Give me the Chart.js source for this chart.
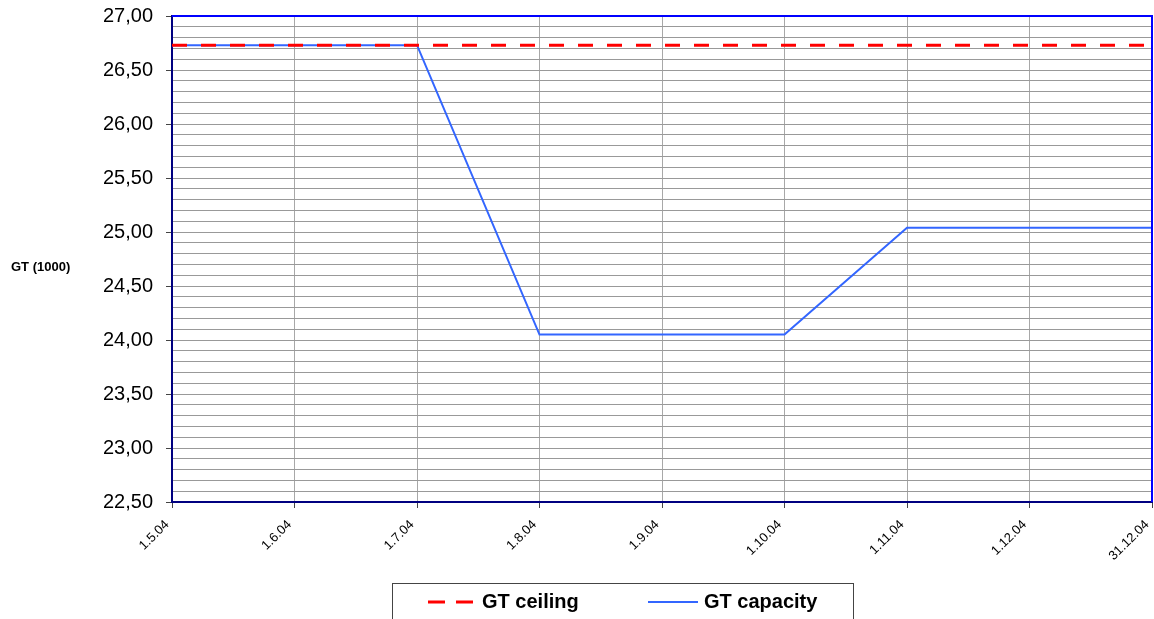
<!DOCTYPE html>
<html>
<head>
<meta charset="utf-8">
<script src="https://cdn.jsdelivr.net/npm/chart.js@4/dist/chart.umd.min.js"></script>
<style>
  html, body { margin: 0; padding: 0; background: #fff; }
  #wrap { width: 1154px; height: 619px; position: relative; }
</style>
</head>
<body>
<div id="wrap"><canvas id="chart" width="1154" height="619"></canvas></div>
<script>
let labels = ['1.5.04','1.6.04','1.7.04','1.8.04','1.9.04','1.10.04','1.11.04','1.12.04','31.12.04'];
let ceiling = [26.73,26.73,26.73,26.73,26.73,26.73,26.73,26.73,26.73];
let capacity = [26.73,26.73,26.73,24.05,24.05,24.05,25.04,25.04,25.04];
let yTitle = 'GT (1000)';

function isMajor(v){
    return Math.abs(v*2 - Math.round(v*2)) < 1e-6;
}

// frame on top and right + y title + legend box
let extras = {
    id:'extras',
    afterDraw(chart){
        let ctx = chart.ctx;
        let a = chart.chartArea;
        ctx.save();
        ctx.strokeStyle = '#0000ff';
        ctx.lineWidth = 2;
        ctx.beginPath();
        ctx.moveTo(a.left, a.top);
        ctx.lineTo(a.right, a.top);
        ctx.lineTo(a.right, a.bottom);
        ctx.stroke();

        ctx.fillStyle = '#000';
        ctx.font = 'bold 13px Arial, "Liberation Sans", sans-serif';
        ctx.textBaseline = 'middle';
        ctx.textAlign = 'left';
        ctx.fillText(yTitle, 11, 267);

        // legend
        ctx.strokeStyle = '#444';
        ctx.lineWidth = 1;
        ctx.strokeRect(392.5, 583.5, 461, 40);
        let ly = 602;
        ctx.strokeStyle = '#ff0000';
        ctx.lineWidth = 3;
        ctx.setLineDash([17,11]);
        ctx.beginPath();
        ctx.moveTo(428, ly);
        ctx.lineTo(476, ly);
        ctx.stroke();
        ctx.setLineDash([]);
        ctx.strokeStyle = '#3366ff';
        ctx.lineWidth = 2;
        ctx.beginPath();
        ctx.moveTo(648, ly);
        ctx.lineTo(698, ly);
        ctx.stroke();
        ctx.fillStyle = '#000';
        ctx.font = 'bold 20px Arial, "Liberation Sans", sans-serif';
        ctx.fillText('GT ceiling', 482, ly);
        ctx.fillText('GT capacity', 704, ly);
        ctx.restore();
    }
};

let chart = new Chart(document.querySelector('#chart').getContext('2d'),{
    type:'line',
    data:{
        labels:labels,
        datasets:[{
            label:'GT ceiling',
            data:ceiling,
            borderColor:'#ff0000',
            borderWidth:3,
            borderDash:[15,14],
            pointRadius:0,
            tension:0
        },{
            label:'GT capacity',
            data:capacity,
            borderColor:'#3366ff',
            borderWidth:2,
            pointRadius:0,
            tension:0
        }]
    },
    options:{
        responsive:false,
        animation:false,
        layout:{padding:{top:16,right:2,left:0,bottom:0}},
        plugins:{legend:{display:false},tooltip:{enabled:false}},
        scales:{
            x:{
                offset:false,
                afterFit(scale){
                    scale.height = 117;
                    scale.paddingLeft = 0;
                    scale.paddingRight = 0;
                },
                grid:{color:'#a8a8a8',lineWidth:1,tickLength:6,tickColor:'#444'},
                border:{color:'#000080',width:2},
                ticks:{
                    maxRotation:45,minRotation:45,autoSkip:false,
                    color:'#000',
                    font:{family:'Arial, "Liberation Sans", sans-serif',size:13},
                    padding:9,
                    labelOffset:-5
                }
            },
            y:{
                min:22.5,max:27,
                afterFit(scale){
                    scale.width = 172;
                    scale.paddingTop = 0;
                    scale.paddingBottom = 0;
                },
                grid:{
                    color:'#999999',lineWidth:1,tickLength:6,
                    tickColor(c){ return isMajor(c.tick.value) ? '#444' : 'rgba(0,0,0,0)'; }
                },
                border:{color:'#000080',width:2},
                ticks:{
                    stepSize:0.1,autoSkip:false,
                    color:'#000',
                    font:{family:'Arial, "Liberation Sans", sans-serif',size:20},
                    padding:13,
                    callback(v){ return isMajor(v) ? v.toFixed(2).replace('.',',') : ''; }
                }
            }
        }
    },
    plugins:[extras]
});
</script>
</body>
</html>
